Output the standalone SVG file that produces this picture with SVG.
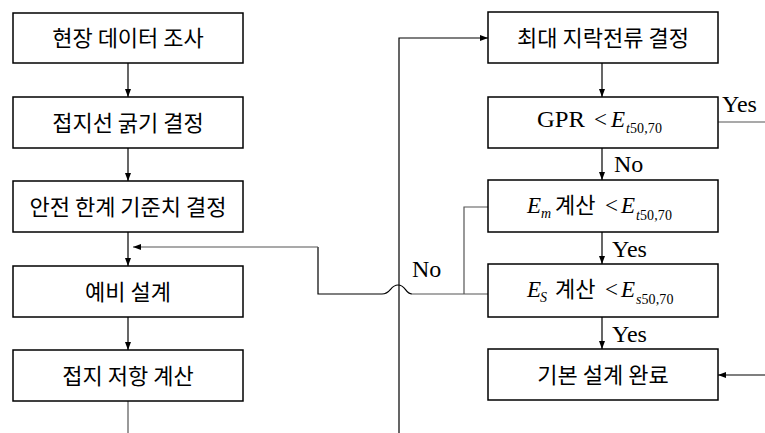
<svg xmlns="http://www.w3.org/2000/svg" width="765" height="433" viewBox="0 0 765 433">
<defs>
<marker id="ah" markerWidth="8" markerHeight="6" refX="8" refY="3" orient="auto" markerUnits="userSpaceOnUse">
<path d="M0,0 L8,3 L0,6 z" fill="#000"/>
</marker>
<style>
.box{fill:#fff;stroke:#000;stroke-width:1.5}
.kt{font-family:"Noto Sans CJK KR","Noto Sans",sans-serif;font-size:22px;text-anchor:middle;fill:#000}
.mt{font-family:"Liberation Serif","Noto Sans CJK KR",serif;font-size:23px;fill:#000}
.ko{font-family:"Noto Sans CJK KR",sans-serif;font-size:22px}
.sub{font-size:14px}
.it{font-style:italic}
.lbl{font-family:"Liberation Serif",serif;font-size:24px;fill:#000}
.ln{fill:none;stroke:#000;stroke-width:1.2}
.gl{fill:none;stroke:#555;stroke-width:1.2}
</style>
</defs>
<g id="connectors">
<line class="ln" x1="128" y1="63" x2="128" y2="97" marker-end="url(#ah)"/>
<line class="ln" x1="128" y1="148" x2="128" y2="181" marker-end="url(#ah)"/>
<line class="ln" x1="128" y1="232" x2="128" y2="266" marker-end="url(#ah)"/>
<line class="ln" x1="128" y1="317" x2="128" y2="350" marker-end="url(#ah)"/>
<line class="gl" x1="128" y1="401" x2="128" y2="433"/>
<line class="ln" x1="602" y1="63" x2="602" y2="97" marker-end="url(#ah)"/>
<line class="ln" x1="602" y1="148" x2="602" y2="180" marker-end="url(#ah)"/>
<line class="ln" x1="602" y1="232" x2="602" y2="264" marker-end="url(#ah)"/>
<line class="ln" x1="602" y1="317" x2="602" y2="349" marker-end="url(#ah)"/>
<polyline class="ln" points="399,433 399,38 488,38" marker-end="url(#ah)"/>
<line class="gl" x1="718" y1="122" x2="765" y2="122"/>
<line class="ln" x1="765" y1="375" x2="718" y2="375" marker-end="url(#ah)"/>
<path class="gl" d="M488,207 L464,207 L464,294"/>
<path class="gl" d="M488,294 L412,294"/>
<path class="ln" d="M412,294 C405,294 406,285 398,285 C390,285 391,294 382,294 L318,294 L318,247"/>
<line class="gl" x1="318" y1="247" x2="133" y2="247" marker-end="url(#ah)"/>
</g>
<g id="n1"><rect class="box" x="13" y="13" width="230" height="50"/><text class="kt" x="128" y="46">현장 데이터 조사</text></g>
<g id="n2"><rect class="box" x="13" y="97" width="230" height="51"/><text class="kt" x="128" y="131">접지선 굵기 결정</text></g>
<g id="n3"><rect class="box" x="13" y="181" width="230" height="51"/><text class="kt" x="128" y="215">안전 한계 기준치 결정</text></g>
<g id="n4"><rect class="box" x="13" y="266" width="230" height="51"/><text class="kt" x="128" y="300">예비 설계</text></g>
<g id="n5"><rect class="box" x="13" y="350" width="230" height="51"/><text class="kt" x="128" y="384">접지 저항 계산</text></g>
<g id="r1"><rect class="box" x="488" y="12" width="230" height="51"/><text class="kt" x="603" y="46">최대 지락전류 결정</text></g>
<g id="r2"><rect class="box" x="488" y="97" width="230" height="51"/>
<text class="mt" y="127"><tspan x="537" textLength="48" lengthAdjust="spacingAndGlyphs">GPR</tspan><tspan x="594">&lt;</tspan><tspan class="it" x="611">E</tspan><tspan class="sub it" x="626" y="133">t</tspan><tspan class="sub" textLength="32" lengthAdjust="spacing">50,70</tspan></text></g>
<g id="r3"><rect class="box" x="488" y="180" width="230" height="52"/>
<text class="mt" y="213"><tspan class="it" x="527">E</tspan><tspan class="sub it" x="541" y="218">m</tspan><tspan class="ko" x="555" y="213">계산</tspan><tspan x="605">&lt;</tspan><tspan class="it" x="621">E</tspan><tspan class="sub it" x="636" y="220">t</tspan><tspan class="sub" textLength="32" lengthAdjust="spacing">50,70</tspan></text></g>
<g id="r4"><rect class="box" x="488" y="264" width="230" height="53"/>
<text class="mt" y="297"><tspan class="it" x="527">E</tspan><tspan class="sub it" x="540" y="302">S</tspan><tspan class="ko" x="555" y="297">계산</tspan><tspan x="605">&lt;</tspan><tspan class="it" x="621">E</tspan><tspan class="sub it" x="636" y="304">s</tspan><tspan class="sub" textLength="32" lengthAdjust="spacing">50,70</tspan></text></g>
<g id="r5"><rect class="box" x="488" y="349" width="230" height="51"/><text class="kt" x="603" y="383">기본 설계 완료</text></g>
<g id="labels">
<text class="lbl" x="722" y="112">Yes</text>
<text class="lbl" x="614" y="172">No</text>
<text class="lbl" x="612" y="257">Yes</text>
<text class="lbl" x="612" y="342">Yes</text>
<text class="lbl" x="412" y="277">No</text>
</g>
</svg>
